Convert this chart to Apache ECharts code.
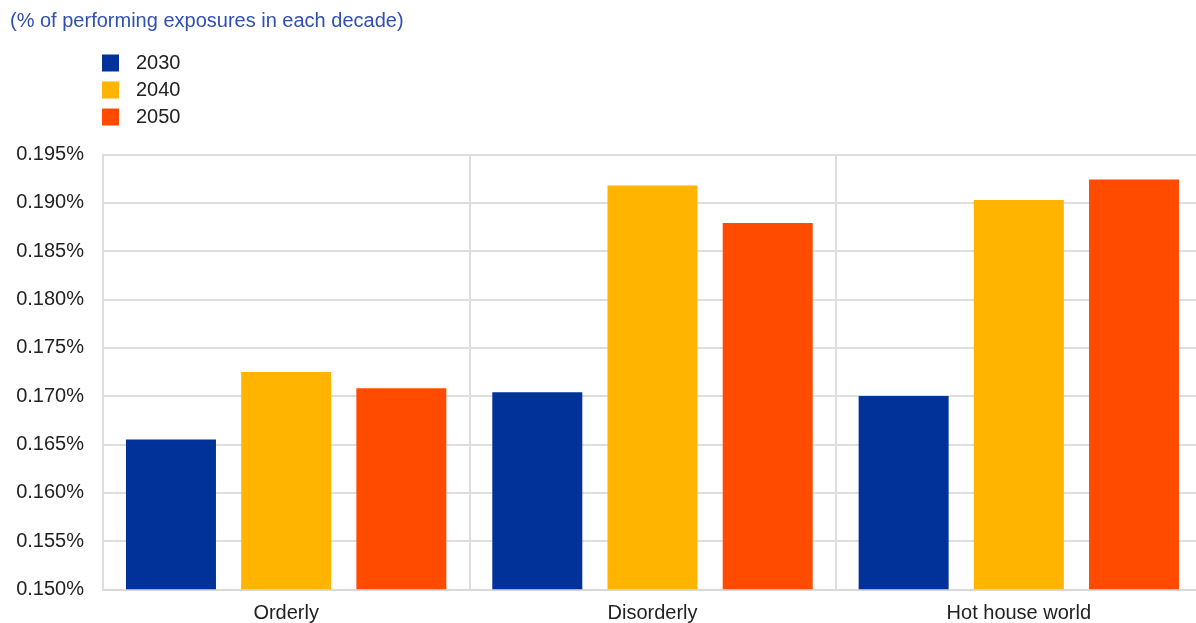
<!DOCTYPE html>
<html>
<head>
<meta charset="utf-8">
<script src="https://cdn.jsdelivr.net/npm/echarts@6/dist/echarts.min.js"></script>
<style>
html,body{margin:0;padding:0;background:#fff;}
#chart{width:1196px;height:623px;}
</style>
</head>
<body>
<div id="chart"></div>
<script>
const categories = ['Orderly', 'Disorderly', 'Hot house world'];
const seriesNames = ['2030', '2040', '2050'];
const values2030 = [0.1655, 0.1704, 0.1700];
const values2040 = [0.1725, 0.1918, 0.1903];
const values2050 = [0.1708, 0.1879, 0.1924];
const yTicks = { min: 0.150, max: 0.195, interval: 0.005 };
const colors = ['#003299', '#ffb400', '#ff4b00'];
const allValues = [values2030, values2040, values2050];

const chart = echarts.init(document.getElementById('chart'));
const font = 'Liberation Sans, Arial, sans-serif';
chart.setOption({
  animation: false,
  title: {
    text: '(% of performing exposures in each decade)',
    left: 10, top: 11, padding: 0,
    textStyle: { fontFamily: font, fontSize: 20, fontWeight: 'normal', color: '#2f4fb5' }
  },
  legend: {
    orient: 'vertical', left: 102, top: 53, padding: 0,
    itemWidth: 17, itemHeight: 17, itemGap: 7,
    icon: 'rect',
    textStyle: { fontFamily: font, fontSize: 20, color: '#222', padding: [0, 0, 0, 12] },
    data: seriesNames
  },
  grid: { left: 103, width: 1099, top: 154.5, bottom: 33.7, containLabel: false, outerBoundsMode: 'none' },
  xAxis: {
    type: 'category', data: categories,
    axisLine: { show: true, lineStyle: { color: '#d9d9d9', width: 2 } },
    axisTick: { show: false },
    splitLine: { show: true, lineStyle: { color: '#dedede', width: 2 } },
    axisLabel: { fontFamily: font, fontSize: 20, color: '#222', margin: 14 }
  },
  yAxis: {
    type: 'value', min: yTicks.min, max: yTicks.max, interval: yTicks.interval,
    axisLine: { show: true, lineStyle: { color: '#dedede', width: 2 } },
    axisTick: { show: false },
    splitLine: { show: true, lineStyle: { color: '#dedede', width: 2 } },
    axisLabel: {
      fontFamily: font, fontSize: 20, color: '#222', margin: 19,
      formatter: v => v.toFixed(3) + '%'
    }
  },
  series: seriesNames.map((name, i) => ({
    name, type: 'bar', data: allValues[i],
    barWidth: 90, barGap: '28%',
    itemStyle: { color: colors[i] }
  }))
});
</script>
</body>
</html>
